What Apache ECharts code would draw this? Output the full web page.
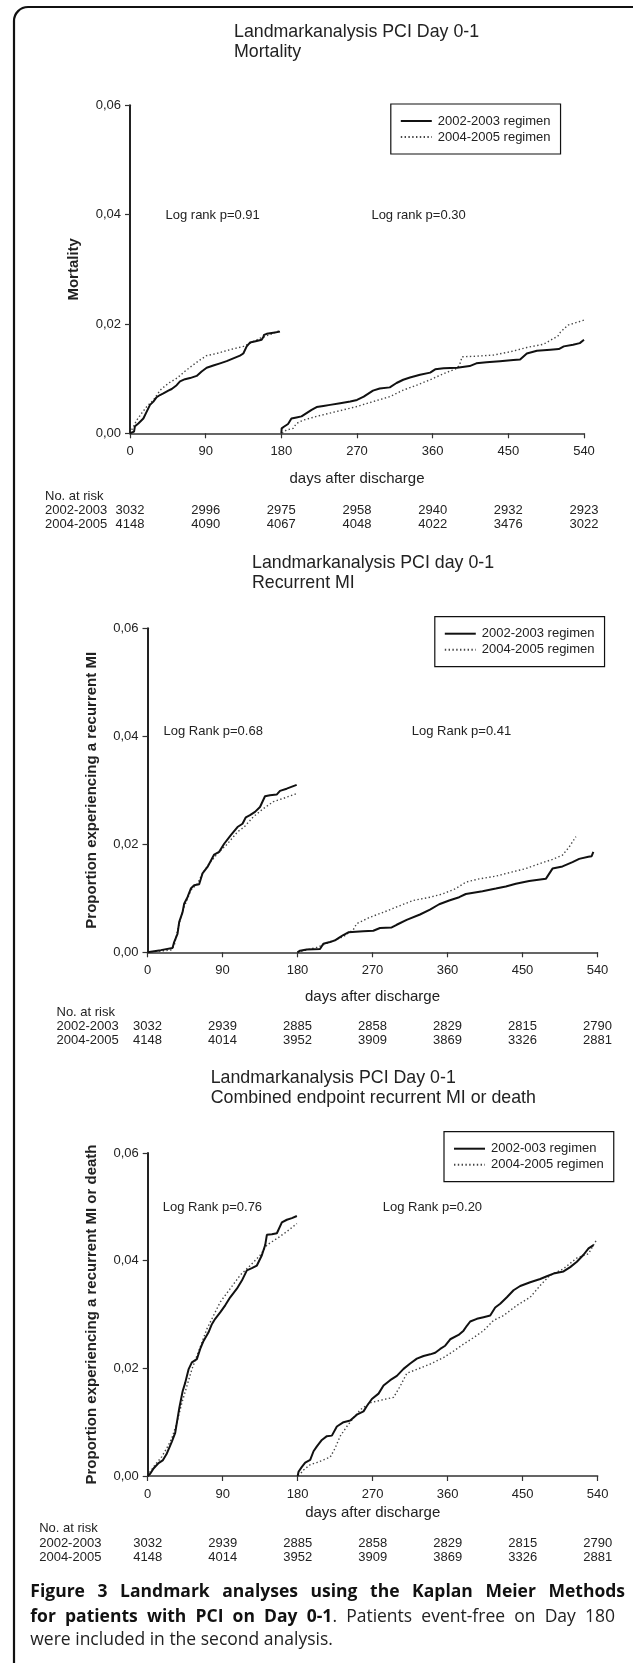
<!DOCTYPE html>
<html><head><meta charset="utf-8">
<script src="https://cdn.jsdelivr.net/npm/echarts@6/dist/echarts.min.js"></script>
<style>html,body{margin:0;padding:0;background:#fff}#c{width:633px;height:1663px}</style>
</head><body><div id="c"></div>
<script>
// ---------- data ----------
const xTicks = [0, 90, 180, 270, 360, 450, 540];

// Panel 1: Mortality
const mortA1 = [[0,0],[4.8,0.0003],[5.9,0.0013],[9.9,0.0018],[15.9,0.0027],[19,0.0037],[23.8,0.0052],[27.8,0.0058],[31.7,0.0066],[35.7,0.007],[39.7,0.0073],[45.6,0.0078],[49.6,0.0081],[55.5,0.0088],[59.5,0.0095],[65.4,0.0099],[71.4,0.0101],[79.3,0.0105],[85.2,0.0113],[91.2,0.012],[99.1,0.0124],[107.1,0.0128],[115,0.0132],[122.9,0.0137],[130.8,0.0142],[134.8,0.0146],[138.8,0.0159],[142.7,0.0166],[150.7,0.0169],[156.6,0.0171],[158.6,0.0176],[159.4,0.018],[162.6,0.0182],[170.5,0.0184],[178.4,0.0186]];
const mortB1 = [[0,0],[3,0.0009],[8,0.0024],[14,0.0037],[20,0.0049],[28,0.0061],[36,0.0079],[46,0.0092],[56,0.0101],[65,0.0113],[75,0.0125],[83,0.0134],[91,0.0142],[103,0.0146],[119,0.0153],[135,0.0159],[143,0.0165],[155,0.0174],[167,0.0181],[178,0.0188]];
const mortA2 = [[180,0],[180.4,0.0009],[183,0.0012],[188,0.0017],[192,0.0027],[198,0.0029],[204,0.0031],[210,0.0037],[216,0.0043],[222,0.0048],[230,0.005],[238,0.0052],[250,0.0055],[262,0.0058],[270,0.0061],[278,0.0067],[289,0.0078],[297,0.0082],[309,0.0084],[317,0.0092],[325,0.0098],[333,0.0102],[345,0.0107],[357,0.0111],[363,0.0117],[373,0.0119],[389,0.012],[404,0.0123],[412,0.0128],[424,0.013],[440,0.0132],[456,0.0134],[464,0.0135],[472,0.0146],[484,0.0151],[500,0.0153],[510,0.0154],[516,0.0159],[527,0.0162],[535,0.0165],[540,0.0171]];
const mortB2 = [[181,0],[186,0.0006],[194,0.0009],[198,0.0018],[206,0.0024],[222,0.0031],[246,0.004],[270,0.0049],[289,0.0058],[309,0.0067],[325,0.0079],[341,0.0088],[357,0.0098],[373,0.0109],[389,0.0119],[392,0.0125],[395,0.014],[412,0.0141],[432,0.0143],[452,0.0149],[472,0.0157],[492,0.0163],[509,0.0178],[512,0.0185],[521,0.0198],[540,0.0207]];
const mortRisk0203 = [3032, 2996, 2975, 2958, 2940, 2932, 2923];
const mortRisk0405 = [4148, 4090, 4067, 4048, 4022, 3476, 3022];

// Panel 2: Recurrent MI
const miA1 = [[0,0],[16,0.0004],[30,0.0008],[32,0.0019],[36,0.0034],[38,0.0056],[42,0.0074],[44,0.009],[48,0.0102],[52,0.0118],[56,0.0124],[62,0.0126],[66,0.0146],[72,0.0158],[80,0.0181],[86,0.0186],[92,0.0201],[100,0.0217],[108,0.0232],[114,0.0238],[118,0.025],[123,0.0254],[129,0.026],[135,0.0269],[141,0.0289],[147,0.0291],[155,0.0292],[159,0.0299],[167,0.0303],[179,0.031]];
const miB1 = [[0,0],[12,0.0002],[28,0.0004],[32,0.0012],[36,0.004],[40,0.0065],[44,0.0084],[48,0.0099],[52,0.0115],[60,0.0127],[66,0.0146],[74,0.0164],[84,0.0183],[96,0.0201],[108,0.0223],[116,0.0232],[127,0.0251],[139,0.0266],[151,0.0279],[163,0.0285],[179,0.0294]];
const miA2 = [[180,0],[183,0.0003],[191,0.0005],[207,0.0006],[211,0.0016],[219,0.0019],[225,0.0022],[231,0.0028],[235,0.0032],[241,0.0037],[259,0.0039],[271,0.004],[279,0.0045],[293,0.0046],[299,0.0051],[311,0.006],[327,0.007],[339,0.0079],[350,0.0089],[362,0.0096],[374,0.0102],[382,0.0108],[402,0.0113],[418,0.0118],[430,0.0122],[442,0.0127],[458,0.0132],[478,0.0136],[486,0.0155],[498,0.0159],[510,0.0167],[518,0.0173],[529,0.0177],[533,0.0178],[535,0.0186]];
const miB2 = [[180,0],[187,0.0003],[203,0.0009],[219,0.0019],[235,0.0029],[247,0.0042],[251,0.0053],[267,0.0065],[283,0.0074],[299,0.0084],[319,0.0096],[339,0.0102],[354,0.0108],[370,0.0118],[382,0.013],[398,0.0136],[418,0.0141],[438,0.0149],[454,0.0155],[470,0.0164],[486,0.0172],[498,0.018],[506,0.0195],[514,0.0214]];
const miRisk0203 = [3032, 2939, 2885, 2858, 2829, 2815, 2790];
const miRisk0405 = [4148, 4014, 3952, 3909, 3869, 3326, 2881];

// Panel 3: Combined endpoint
const combA1 = [[0,0],[3,0.0004],[7,0.0014],[13,0.0024],[18,0.0029],[23,0.0042],[29,0.0064],[33,0.008],[35,0.0099],[38,0.0127],[42,0.0158],[45,0.0173],[49,0.0198],[53,0.0211],[59,0.0217],[63,0.0236],[67,0.0251],[73,0.0267],[77,0.0282],[81,0.0292],[87,0.0304],[93,0.0317],[99,0.0332],[107,0.0348],[113,0.0363],[119,0.0382],[125,0.0386],[131,0.0391],[137,0.041],[141,0.0429],[143,0.0448],[149,0.0449],[155,0.0451],[161,0.0471],[167,0.0476],[173,0.0479],[179,0.0483]];
const combB1 = [[0,0],[3,0.0008],[9,0.0021],[17,0.0036],[23,0.0052],[29,0.007],[35,0.0099],[41,0.0136],[47,0.0167],[53,0.0198],[59,0.0223],[65,0.0248],[71,0.0273],[79,0.0298],[87,0.0323],[99,0.0348],[111,0.0373],[123,0.0391],[135,0.041],[143,0.0429],[155,0.0441],[167,0.0454],[179,0.0469]];
const combA2 = [[180,0],[181,0.0008],[185,0.0017],[189,0.0025],[195,0.003],[199,0.0046],[203,0.0055],[209,0.0067],[215,0.0074],[221,0.0075],[227,0.0092],[235,0.01],[243,0.0103],[251,0.0114],[259,0.012],[263,0.013],[269,0.0143],[277,0.0153],[283,0.0168],[291,0.0178],[299,0.0186],[307,0.0199],[315,0.0209],[323,0.0218],[331,0.0223],[339,0.0226],[345,0.0229],[351,0.0236],[357,0.0242],[363,0.0254],[373,0.0262],[379,0.027],[383,0.0279],[387,0.0287],[395,0.0292],[403,0.0295],[411,0.0298],[417,0.0313],[423,0.032],[431,0.0332],[439,0.0345],[447,0.0353],[459,0.036],[471,0.0366],[479,0.0371],[487,0.0376],[499,0.038],[507,0.0388],[515,0.0398],[523,0.0411],[529,0.0423],[535,0.0429]];
const combB2 = [[181,0],[187,0.0011],[195,0.0021],[203,0.0025],[211,0.003],[219,0.0035],[225,0.0052],[231,0.0074],[239,0.0092],[247,0.0108],[255,0.0123],[267,0.0136],[283,0.0142],[295,0.0146],[303,0.0167],[311,0.0191],[323,0.0198],[339,0.0208],[355,0.022],[367,0.0232],[379,0.0245],[391,0.0257],[403,0.027],[415,0.0289],[427,0.0298],[443,0.0317],[459,0.0332],[471,0.0354],[483,0.0373],[499,0.0385],[515,0.0405],[529,0.0413],[538,0.0437]];
const combRisk0203 = [3032, 2939, 2885, 2858, 2829, 2815, 2790];
const combRisk0405 = [4148, 4014, 3952, 3909, 3869, 3326, 2881];

// caption (tokens: [text, bold])
const captionLine1 = 'Figure 3 Landmark analyses using the Kaplan Meier Methods';
const captionLine2 = [['for', 1], ['patients', 1], ['with', 1], ['PCI', 1], ['on', 1], ['Day', 1], ['0-1', 1, '.'], ['Patients', 0], ['event-free', 0], ['on', 0], ['Day', 0], ['180', 0]];
const captionLine3 = 'were included in the second analysis.';

// ---------- chart ----------
const FONT = '"Liberation Sans", Arial, sans-serif';
const INK = '#222';
const chart = echarts.init(document.getElementById('c'), null, {renderer: 'canvas', width: 633, height: 1663});

const panels = [
  {grid: {left: 130, top: 105.3, width: 454, height: 328}, yName: 'Mortality', xNameGap: 37.4, riskOffset: 70.4,
   risk: [mortRisk0203, mortRisk0405], A: [mortA1, mortA2], B: [mortB1, mortB2],
   nameA: '2002-2003 regimen', nameB: '2004-2005 regimen', legend: {left: 390.8, top: 104}},
  {grid: {left: 147.5, top: 628.3, width: 450, height: 324}, yName: 'Proportion experiencing a recurrent MI', xNameGap: 37, riskOffset: 66.7,
   risk: [miRisk0203, miRisk0405], A: [miA1, miA2], B: [miB1, miB2],
   nameA: '2002-2003 regimen', nameB: '2004-2005 regimen', legend: {left: 434.8, top: 616.7}},
  {grid: {left: 147.7, top: 1153, width: 450, height: 323}, yName: 'Proportion experiencing a recurrent MI or death', xNameGap: 29.3, riskOffset: 60.3,
   risk: [combRisk0203, combRisk0405], A: [combA1, combA2], B: [combB1, combB2],
   nameA: '2002-003 regimen', nameB: '2004-2005 regimen', legend: {left: 444, top: 1131.7}}
];

const grid = [], xAxis = [], yAxis = [], series = [], legend = [];
panels.forEach((p, i) => {
  grid.push(Object.assign({containLabel: false, outerBoundsMode: 'none'}, p.grid));
  xAxis.push({
    type: 'value', gridIndex: i, min: 0, max: 540, interval: 90, position: 'bottom',
    name: 'days after discharge', nameLocation: 'middle', nameGap: p.xNameGap, nameMoveOverlap: false,
    nameTextStyle: {fontFamily: FONT, fontSize: 15, color: INK, lineHeight: 16},
    axisLine: {show: true, onZero: false, lineStyle: {color: '#333', width: 1.5}},
    axisTick: {show: true, length: 5, lineStyle: {color: '#333', width: 1.2}},
    axisLabel: {fontFamily: FONT, fontSize: 13, color: INK, margin: 11, lineHeight: 14, showMinLabel: true, showMaxLabel: true},
    splitLine: {show: false}
  });
  const r = p.risk;
  xAxis.push({
    type: 'value', gridIndex: i, min: 0, max: 540, interval: 90, position: 'bottom', offset: p.riskOffset,
    axisLine: {show: false}, axisTick: {show: false}, splitLine: {show: false},
    axisLabel: {fontFamily: FONT, fontSize: 13, color: INK, margin: 0, lineHeight: 14, showMinLabel: true, showMaxLabel: true,
      formatter: v => { const k = Math.round(v / 90); return r[0][k] + '\n' + r[1][k]; }}
  });
  yAxis.push({
    type: 'value', gridIndex: i, min: 0, max: 0.06, interval: 0.02,
    name: p.yName, nameLocation: 'middle', nameGap: 47, nameMoveOverlap: false,
    nameTextStyle: {fontFamily: FONT, fontSize: 15, fontWeight: 'bold', color: INK, lineHeight: 18},
    axisLine: {show: true, onZero: false, lineStyle: {color: '#222', width: 2}},
    axisTick: {show: true, length: 5, lineStyle: {color: '#333', width: 1.2}},
    axisLabel: {fontFamily: FONT, fontSize: 13, color: INK, margin: 9, formatter: v => v.toFixed(2).replace('.', ',')},
    splitLine: {show: false}
  });
  const dotted = {color: '#444', width: 1.4, type: [1.4, 2.4]};
  const solid = {color: '#111', width: 2};
  p.B.forEach(d => series.push({type: 'line', name: p.nameB, xAxisIndex: 2 * i, yAxisIndex: i, data: d,
    showSymbol: false, symbol: 'none', lineStyle: dotted, itemStyle: {color: '#444'}, silent: true, animation: false}));
  p.A.forEach(d => series.push({type: 'line', name: p.nameA, xAxisIndex: 2 * i, yAxisIndex: i, data: d,
    showSymbol: false, symbol: 'none', lineStyle: solid, itemStyle: {color: '#111'}, silent: true, animation: false}));
  legend.push({
    left: p.legend.left, top: p.legend.top, orient: 'vertical', data: [p.nameA, p.nameB],
    backgroundColor: '#fff', borderColor: '#111', borderWidth: 1.2, borderRadius: 0,
    padding: [9, 10, 9, 9], itemWidth: 31, itemHeight: 10, itemGap: 0, selectedMode: false,
    itemStyle: {opacity: 0},
    textStyle: {fontFamily: FONT, fontSize: 13, color: INK, lineHeight: 16, padding: [0, 0, 0, 1]}
  });
});

function txt(text, x, y, size, opts) {
  return {
    type: 'text', x: x, y: y, silent: true,
    style: Object.assign({text: text, fontFamily: FONT, fontSize: size, fill: INK,
      textAlign: 'left', textVerticalAlign: 'middle'}, (opts || {}))
  };
}

// justified caption lines (word spacing stretched like the journal layout)
const CAP = '"Open Sans"';
const CAPSIZE = 17.5;
const mctx = document.createElement('canvas').getContext('2d');
function mw(t, bold) { mctx.font = (bold ? 'bold ' : '') + CAPSIZE + 'px ' + CAP; return mctx.measureText(t).width; }
function justified(tokens, x0, x1, y) {
  const widths = tokens.map(tk => mw(tk[0], tk[1]) + (tk[2] ? mw(tk[2], 0) : 0));
  const total = widths.reduce((a, b) => a + b, 0);
  const gap = (x1 - x0 - total) / (tokens.length - 1);
  const out = []; let x = x0;
  tokens.forEach((tk, k) => {
    const t = (tk[1] ? '{b|' + tk[0] + '}' : '{r|' + tk[0] + '}') + (tk[2] ? '{r|' + tk[2] + '}' : '');
    out.push(txt(t, x, y, CAPSIZE, {fontFamily: CAP, rich: {
      b: {fontFamily: CAP, fontSize: CAPSIZE, fontWeight: 'bold', fill: '#111'},
      r: {fontFamily: CAP, fontSize: CAPSIZE, fontWeight: 'normal', fill: '#222'}}}));
    x += widths[k] + gap;
  });
  return out;
}

const graphic = [
  {type: 'rect', silent: true, z: -1, shape: {x: 14, y: 7, width: 700, height: 1720, r: 14},
   style: {fill: 'none', stroke: '#111', lineWidth: 2.2}},
  // titles
  txt('Landmarkanalysis PCI Day 0-1', 234, 31.7, 17.8),
  txt('Mortality', 234, 51.7, 17.8),
  txt('Landmarkanalysis PCI day 0-1', 252, 563.5, 17.8),
  txt('Recurrent MI', 252, 583.5, 17.8),
  txt('Landmarkanalysis PCI Day 0-1', 210.7, 1078.3, 17.8),
  txt('Combined endpoint recurrent MI or death', 210.7, 1098.3, 17.8),
  // log rank annotations
  txt('Log rank p=0.91', 165.5, 215, 13),
  txt('Log rank p=0.30', 371.4, 215, 13),
  txt('Log Rank p=0.68', 163.5, 731, 13),
  txt('Log Rank p=0.41', 411.8, 731, 13),
  txt('Log Rank p=0.76', 162.7, 1207.5, 13),
  txt('Log Rank p=0.20', 382.7, 1207.5, 13),
  // risk table headers
  txt('No. at risk', 45, 496.7, 13), txt('2002-2003', 45, 510.7, 13), txt('2004-2005', 45, 524.5, 13),
  txt('No. at risk', 56.5, 1012, 13), txt('2002-2003', 56.5, 1026, 13), txt('2004-2005', 56.5, 1040, 13),
  txt('No. at risk', 39.2, 1528.3, 13), txt('2002-2003', 39.2, 1543.3, 13), txt('2004-2005', 39.2, 1557.3, 13)
].concat(
  justified(captionLine1.split(' ').map(w => [w, 1]), 30.3, 625, 1591.7),
  justified(captionLine2, 30.3, 615, 1616.7),
  [txt(captionLine3, 30.3, 1640.5, CAPSIZE, {fontFamily: CAP, fill: '#222'})]
);

chart.setOption({
  animation: false,
  backgroundColor: '#fff',
  grid, xAxis, yAxis, series, legend, graphic
});
</script>
</body></html>
